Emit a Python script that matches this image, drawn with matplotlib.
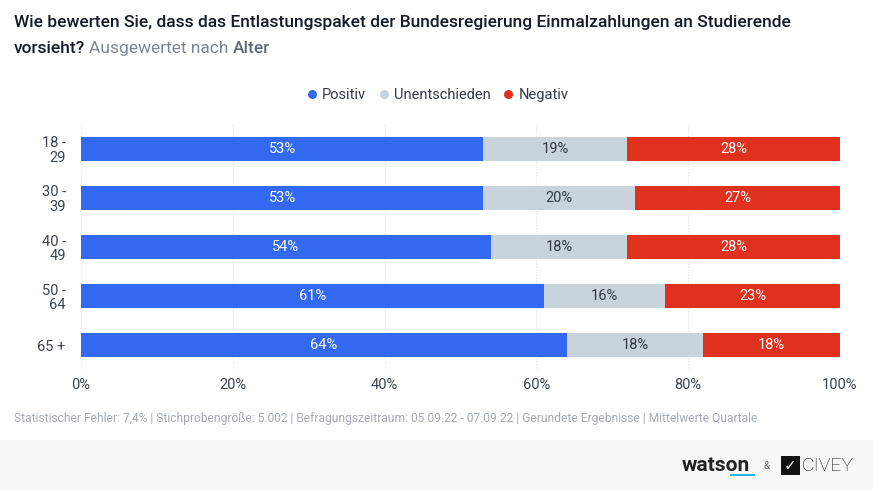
import matplotlib
matplotlib.use("Agg")
import matplotlib.pyplot as plt
from matplotlib.patches import Rectangle
import numpy as np

plt.rcParams['font.family'] = ['Roboto', 'DejaVu Sans']

categories = ["18 -\n29", "30 -\n39", "40 -\n49", "50 -\n64", "65 +"]
series_names = ["Positiv", "Unentschieden", "Negativ"]
positiv = [53, 53, 54, 61, 64]
unentschieden = [19, 20, 18, 16, 18]
negativ = [28, 27, 28, 23, 18]
x_ticks = [0, 20, 40, 60, 80, 100]
x_tick_labels = ["0%", "20%", "40%", "60%", "80%", "100%"]

colors = ["#3369F0", "#C9D3DC", "#E0301E"]
text_colors = ["white", "#333A45", "white"]

W, H = 873, 490
fig = plt.figure(figsize=(W / 100, H / 100), dpi=100)
fig.patch.set_facecolor("white")

# footer band
fig.add_artist(Rectangle((0, 0), 1, 50 / H, transform=fig.transFigure,
                         facecolor="#F7F7F7", edgecolor="none", zorder=0))

ax_left, ax_right = 81 / W, 840 / W
ax_top, ax_bot = 124 / H, 370 / H
ax = fig.add_axes([ax_left, 1 - ax_bot, ax_right - ax_left, ax_bot - ax_top])

y = np.arange(len(categories))
data = [positiv, unentschieden, negativ]
left = np.zeros(len(categories))
for vals, col, tc, name in zip(data, colors, text_colors, series_names):
    vals = np.array(vals, dtype=float)
    ax.barh(y, vals, left=left, height=0.49, color=col, edgecolor="none", zorder=3, label=name)
    for yi, (l, v) in enumerate(zip(left, vals)):
        ax.text(l + v / 2, yi, f"{int(v)}%", ha="center", va="center",
                color=tc, fontsize=10.5, zorder=4)
    left += vals

ax.set_xlim(0, 100)
ax.set_ylim(len(categories) - 0.5, -0.5)
ax.set_yticks(y)
ax.set_yticklabels(categories, fontsize=10.5, color="#3C4550", linespacing=1.05)
ax.set_xticks(x_ticks)
ax.set_xticklabels(x_tick_labels, fontsize=10.5, color="#3C4550")
ax.tick_params(axis="both", length=0)
ax.tick_params(axis="y", pad=11)
ax.tick_params(axis="x", pad=6)
for s in ax.spines.values():
    s.set_visible(False)
ax.grid(axis="x", color="#DDE1E5", linestyle=(0, (1, 1.5)), linewidth=0.8, zorder=0)
ax.set_axisbelow(True)

# title
TS = 12.5
fig.text(14 / W, 1 - 27 / H, "Wie bewerten Sie, dass das Entlastungspaket der Bundesregierung Einmalzahlungen an Studierende",
         fontsize=TS, color="#131B26", ha="left", va="baseline", fontweight="medium")
t = fig.text(14 / W, 1 - 53 / H, "vorsieht?", fontsize=TS, color="#131B26",
             ha="left", va="baseline", fontweight="medium")
fig.canvas.draw()
bb = t.get_window_extent()
t2 = fig.text((bb.x1 + 4) / W, 1 - 53 / H, "Ausgewertet nach ", fontsize=TS, color="#7D8690",
              ha="left", va="baseline")
fig.canvas.draw()
bb2 = t2.get_window_extent()
fig.text((bb2.x1) / W, 1 - 53 / H, "Alter", fontsize=TS, color="#5F6873",
         ha="left", va="baseline", fontweight="medium")

# legend
handles = [plt.Line2D([], [], marker="o", linestyle="none", markersize=6.5,
                      markerfacecolor=c, markeredgecolor="none") for c in colors]
fig.legend(handles, series_names, loc="center", bbox_to_anchor=(438 / W, 1 - 95 / H),
           ncol=3, frameon=False, fontsize=10.5, handlelength=0.6, handletextpad=0.4,
           columnspacing=0.9, labelcolor="#333A45")

# footer note
fig.text(14 / W, 1 - 418 / H,
         "Statistischer Fehler: 7,4% | Stichprobengröße: 5.002 | Befragungszeitraum: 05.09.22 - 07.09.22 | Gerundete Ergebnisse | Mittelwerte Quartale",
         fontsize=8.65, color="#A3AAB2", ha="left", va="center")

# logos
fig.text(682 / W, 1 - 465 / H, "watson", fontsize=15, fontweight="bold", color="#222222",
         ha="left", va="center")
fig.add_artist(Rectangle((730 / W, 1 - 476 / H), 25 / W, 2 / H, transform=fig.transFigure,
                         facecolor="#2EB5E8", edgecolor="none"))
fig.text(767 / W, 1 - 466 / H, "&", fontsize=7, color="#556070", ha="center", va="center")
fig.add_artist(Rectangle((781 / W, 1 - 475 / H), 19 / W, 19 / H, transform=fig.transFigure,
                         facecolor="#111111", edgecolor="none"))
fig.text(790.5 / W, 1 - 465.5 / H, "✓", fontsize=11, color="white", ha="center", va="center",
         family=["DejaVu Sans"], fontweight="bold")
fig.text(802 / W, 1 - 465.5 / H, "CIVEY", fontsize=14, color="#111111", ha="left", va="center",
         fontweight="light")

fig.savefig("out.png", dpi=100, facecolor=fig.get_facecolor())
